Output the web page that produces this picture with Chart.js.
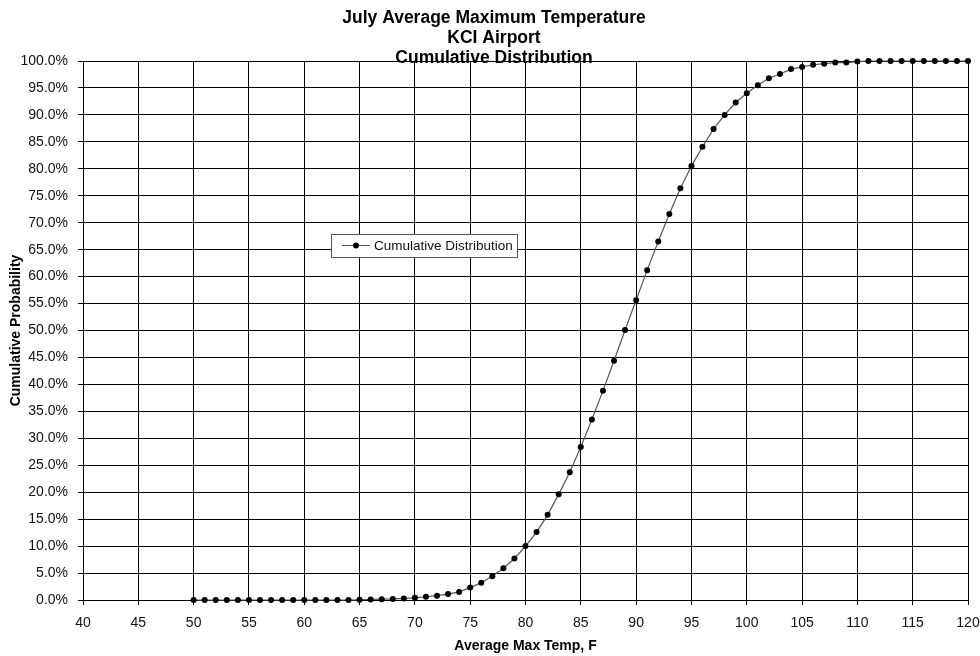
<!DOCTYPE html>
<html>
<head>
<meta charset="utf-8">
<script src="https://cdn.jsdelivr.net/npm/chart.js@4/dist/chart.umd.min.js"></script>
<style>
  body { margin: 0; background: #fff; }
  #wrap { width: 980px; height: 656px; }
</style>
</head>
<body>
<div id="wrap"><canvas id="myChart" width="980" height="656"></canvas></div>
<script>
// temperatures (F) and cumulative probability (%)
var temps = [50, 51, 52, 53, 54, 55, 56, 57, 58, 59,
             60, 61, 62, 63, 64, 65, 66, 67, 68, 69,
             70, 71, 72, 73, 74, 75, 76, 77, 78, 79,
             80, 81, 82, 83, 84, 85, 86, 87, 88, 89,
             90, 91, 92, 93, 94, 95, 96, 97, 98, 99,
             100, 101, 102, 103, 104, 105, 106, 107, 108, 109,
             110, 111, 112, 113, 114, 115, 116, 117, 118, 119, 120];
var cumProb = [0.0, 0.0, 0.0, 0.0, 0.0, 0.0, 0.0, 0.0, 0.0, 0.0,
               0.0, 0.0, 0.0, 0.0, 0.0, 0.05, 0.1, 0.15, 0.2, 0.3,
               0.4, 0.6, 0.8, 1.1, 1.5, 2.3, 3.2, 4.4, 5.9, 7.7,
               10.0, 12.6, 15.8, 19.6, 23.7, 28.4, 33.5, 38.8, 44.4, 50.1,
               55.6, 61.2, 66.5, 71.6, 76.4, 80.5, 84.1, 87.4, 90.0, 92.3,
               94.0, 95.5, 96.8, 97.6, 98.5, 98.9, 99.3, 99.5, 99.7, 99.7,
               99.9, 100, 100, 100, 100, 100, 100, 100, 100, 100, 100];
var seriesName = 'Cumulative Distribution';
var titleLines = ['July Average Maximum Temperature', 'KCI Airport', 'Cumulative Distribution'];

var points = temps.map(function (t, i) { return { x: t, y: cumProb[i] }; });
var fontFam = "'Liberation Sans', Arial, sans-serif";

// title + floating legend box drawn on top of the plot
var overlay = {
    id: 'overlay',
    afterDraw: function (chart) {
        var ctx = chart.ctx;
        ctx.save();
        ctx.fillStyle = '#000';
        ctx.font = 'bold 17.5px ' + fontFam;
        ctx.textAlign = 'center';
        ctx.textBaseline = 'middle';
        titleLines.forEach(function (line, i) {
            ctx.fillText(line, 494, 18 + i * 20);
        });

        // legend
        var lx = 331, ly = 234, lw = 186, lh = 23;
        ctx.fillStyle = '#fff';
        ctx.fillRect(lx, ly, lw, lh);
        ctx.strokeStyle = '#555';
        ctx.lineWidth = 1;
        ctx.strokeRect(lx + 0.5, ly + 0.5, lw, lh);
        ctx.strokeStyle = '#555';
        ctx.beginPath();
        ctx.moveTo(342, ly + 11.5);
        ctx.lineTo(370, ly + 11.5);
        ctx.stroke();
        ctx.fillStyle = '#000';
        ctx.beginPath();
        ctx.arc(356, ly + 11.5, 3, 0, Math.PI * 2);
        ctx.fill();
        ctx.font = '13.5px ' + fontFam;
        ctx.textAlign = 'left';
        ctx.fillStyle = '#111';
        ctx.fillText(chart.data.datasets[0].label, 374, ly + 12);
        ctx.restore();
    }
};

var config = {
    type: 'line',
    data: {
        datasets: [{
            label: seriesName,
            data: points,
            borderColor: '#555',
            borderWidth: 1.2,
            pointRadius: 3,
            pointBackgroundColor: '#000',
            pointBorderColor: '#000',
            pointBorderWidth: 0,
            tension: 0,
            clip: false
        }]
    },
    options: {
        responsive: false,
        animation: false,
        layout: { padding: { top: 61, right: 12, left: 0, bottom: 0 } },
        plugins: {
            legend: { display: false },
            title: { display: false },
            tooltip: { enabled: false }
        },
        scales: {
            x: {
                type: 'linear',
                min: 40,
                max: 120,
                afterFit: function (s) { s.height = 56; s.paddingRight = 0; s.paddingLeft = 0; },
                ticks: { stepSize: 5, color: '#111', font: { family: fontFam, size: 14 }, padding: 10, maxRotation: 0 },
                grid: { color: '#000', lineWidth: 1, tickLength: 5 },
                border: { color: '#000' },
                title: { display: true, text: 'Average Max Temp, F', color: '#000', font: { family: fontFam, size: 14, weight: 'bold' }, padding: { top: 0, bottom: 1 } }
            },
            y: {
                min: 0,
                max: 100,
                afterFit: function (s) { s.width = 83; },
                ticks: {
                    stepSize: 5,
                    color: '#111',
                    font: { family: fontFam, size: 14 },
                    padding: 10,
                    callback: function (v) { return v.toFixed(1) + '%'; }
                },
                grid: { color: '#000', lineWidth: 1, tickLength: 5 },
                border: { color: '#000' },
                title: { display: true, text: 'Cumulative Probability', color: '#000', font: { family: fontFam, size: 14, weight: 'bold' }, padding: { top: 8, bottom: 0 } }
            }
        }
    },
    plugins: [overlay]
};

var ctx = document.getElementById('myChart').getContext('2d');
var myChart = new Chart(ctx, config);
</script>
</body>
</html>
